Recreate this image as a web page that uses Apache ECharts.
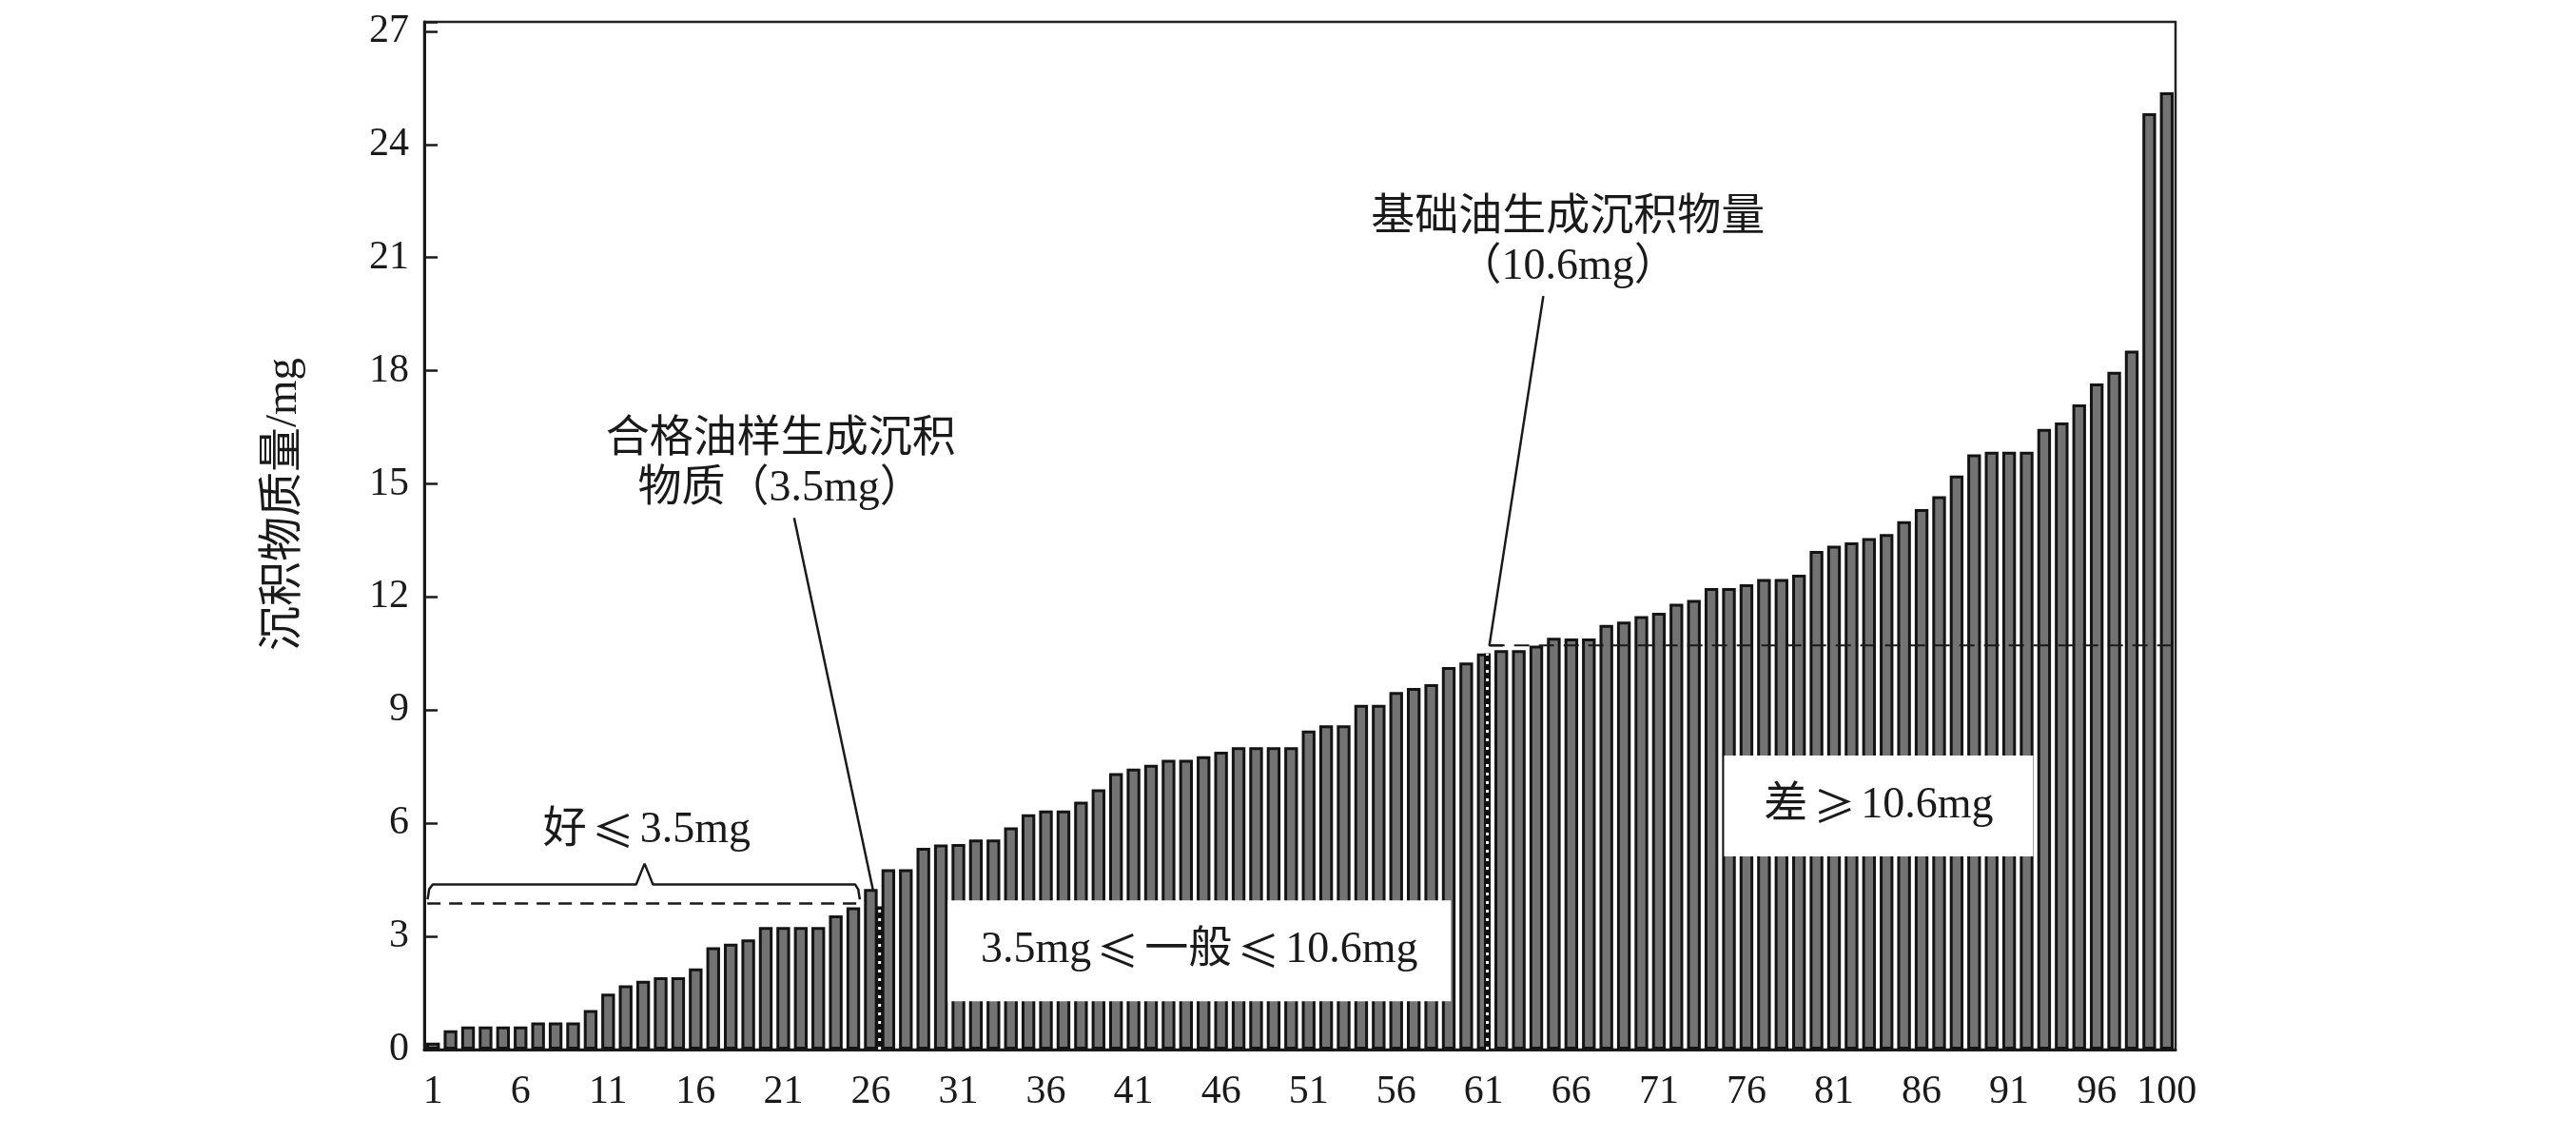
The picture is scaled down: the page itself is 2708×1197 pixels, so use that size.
<!DOCTYPE html>
<html>
<head>
<meta charset="utf-8">
<script src="https://cdn.jsdelivr.net/npm/echarts@6/dist/echarts.min.js"></script>
<style>
html,body{margin:0;padding:0;background:#fff;}
#chart{width:2708px;height:1197px;}
</style>
</head>
<body>
<div id="chart"></div>
<script>
// ---- data ----
const categories = Array.from({length: 100}, (_, i) => String(i + 1));
const xTickLabels = ['1','6','11','16','21','26','31','36','41','46','51','56','61','66','71','76','81','86','91','96','100'];
const yTicks = [0, 3, 6, 9, 12, 15, 18, 21, 24, 27];
const sediment = [
  0.18, 0.51, 0.61, 0.61, 0.61, 0.61, 0.72, 0.72, 0.72, 1.05,
  1.48, 1.70, 1.82, 1.92, 1.92, 2.15, 2.71, 2.81, 2.92, 3.25,
  3.25, 3.25, 3.25, 3.56, 3.77, 4.26, 4.78, 4.78, 5.35, 5.44,
  5.45, 5.57, 5.57, 5.89, 6.24, 6.34, 6.34, 6.57, 6.90, 7.33,
  7.45, 7.55, 7.68, 7.68, 7.78, 7.90, 8.02, 8.02, 8.02, 8.02,
  8.46, 8.60, 8.60, 9.14, 9.14, 9.48, 9.59, 9.69, 10.14, 10.26,
  10.50, 10.59, 10.59, 10.71, 10.92, 10.90, 10.90, 11.26, 11.35, 11.49,
  11.58, 11.82, 11.92, 12.24, 12.24, 12.34, 12.48, 12.48, 12.59, 13.22,
  13.36, 13.45, 13.56, 13.67, 14.01, 14.33, 14.67, 15.22, 15.78, 15.85,
  15.85, 15.85, 16.46, 16.63, 17.11, 17.66, 17.97, 18.53, 24.83, 25.38
];
// annotation geometry in data units (x: sample number, y: mg)
const goodDash = [[0.67, 3.87], [25.35, 3.87]];
const goodBrace = [[0.69, 3.98], [0.78, 4.25], [0.98, 4.38], [12.6, 4.38], [13.08, 4.93], [13.56, 4.38], [25.1, 4.38], [25.28, 4.25], [25.37, 3.98]];
const qualifiedLeader = [[21.62, 14.1], [26.12, 4.24]];
const baseLeader = [[64.4, 19.98], [61.32, 10.72], [62.1, 10.72]];
const baseDash = [[61.32, 10.72], [100.3, 10.72]];
const dotLine1 = [[26.5, 0], [26.5, 3.8]];
const dotLine2 = [[61.2, 0], [61.2, 10.5]];
const plainTexts = [
  {name: '好≤3.5mg', value: [13.2, 5.8]},
  {name: '合格油样生成沉积\n物质（3.5mg）', value: [20.85, 15.52]},
  {name: '基础油生成沉积物量\n（10.6mg）', value: [65.8, 21.4]}
];
const boxTexts = [
  {name: '3.5mg≤一般≤10.6mg', value: [44.76, 2.62], w: 529},
  {name: '差≥10.6mg', value: [83.55, 6.46], w: 325}
];

const FONT = '"Liberation Serif", "Noto Sans CJK SC", serif';
const CJK = '"Noto Sans CJK SC", sans-serif';
const INK = '#1a1a1a';

function richText(s) {
  return s.replace(/([≤≥])/g, '{s|$1}').split('\n').map(l => l.replace(/^([^{]+)/, '{t|$1}').replace(/\}([^{}]+)(?=\{|$)/g, '}{t|$1}')).join('\n');
}

function lineSeries(pts, style, z) {
  return {
    type: 'line', xAxisIndex: 1, yAxisIndex: 0, data: pts,
    symbol: 'none', silent: true, z: z || 5, animation: false,
    lineStyle: Object.assign({color: INK, width: 2.5}, style)
  };
}

const richStyles = {
  t: {fontFamily: FONT, fontSize: 46, color: INK},
  s: {fontFamily: CJK, fontSize: 44, color: INK, padding: [0, 6, 0, 6]}
};

const chart = echarts.init(document.getElementById('chart'));
chart.setOption({
  animation: false,
  backgroundColor: '#fff',
  grid: {left: 446, right: 421, top: 23, bottom: 94, show: true, borderColor: '#222', borderWidth: 2.5},
  xAxis: [
    {
      type: 'category', data: categories, boundaryGap: true,
      axisLine: {lineStyle: {color: INK, width: 3}},
      axisTick: {show: false},
      axisLabel: {
        interval: (idx, val) => xTickLabels.indexOf(val) >= 0,
        fontFamily: FONT, fontSize: 42, color: INK, margin: 24
      },
      splitLine: {show: false}
    },
    {type: 'value', min: 0.5, max: 100.5, show: false}
  ],
  yAxis: {
    type: 'value', min: 0, max: 27.25, interval: 3,
    name: '沉积物质量/mg', nameLocation: 'middle', nameGap: 124, nameRotate: 90,
    nameTextStyle: {fontFamily: FONT, fontSize: 47, color: INK, padding: [0, 0, 0, 66]},
    axisLine: {show: true, lineStyle: {color: INK, width: 3}},
    axisTick: {show: true, inside: true, length: 14, lineStyle: {color: INK, width: 2.5}},
    axisLabel: {
      formatter: v => (yTicks.indexOf(v) >= 0 ? String(v) : ''),
      fontFamily: FONT, fontSize: 42, color: INK, margin: 16
    },
    splitLine: {show: false}
  },
  series: [
    {
      type: 'bar', data: sediment, barCategoryGap: '22%', z: 2,
      itemStyle: {color: '#737373', borderColor: '#141414', borderWidth: 3}
    },
    lineSeries(goodDash, {type: [14, 9], width: 2.5}),
    lineSeries(goodBrace, {width: 2.5}),
    lineSeries(qualifiedLeader, {width: 2.5}),
    lineSeries(baseLeader, {width: 2.5}),
    lineSeries(baseDash, {type: [16, 10], width: 2}),
    lineSeries(dotLine1, {width: 7, color: '#111'}, 6),
    lineSeries(dotLine1, {width: 3, color: '#fff', type: [3, 6]}, 7),
    lineSeries(dotLine2, {width: 7, color: '#111'}, 6),
    lineSeries(dotLine2, {width: 3, color: '#fff', type: [3, 6]}, 7),
    {
      type: 'scatter', xAxisIndex: 1, yAxisIndex: 0, symbolSize: 0, z: 10, silent: true,
      itemStyle: {opacity: 1},
      data: plainTexts,
      label: {show: true, position: 'inside', formatter: p => richText(p.name),
              rich: richStyles, lineHeight: 52, align: 'center', verticalAlign: 'middle', opacity: 1}
    },
    {
      type: 'scatter', xAxisIndex: 1, yAxisIndex: 0, symbolSize: 0, z: 11, silent: true,
      itemStyle: {opacity: 1},
      data: boxTexts.map(b => ({name: b.name, value: b.value, label: {width: b.w}})),
      label: {show: true, position: 'inside', formatter: p => richText(p.name),
              rich: richStyles, height: 106, lineHeight: 106, padding: 0,
              backgroundColor: '#ffffff', align: 'center', verticalAlign: 'middle', opacity: 1}
    }
  ]
});
</script>
</body>
</html>
